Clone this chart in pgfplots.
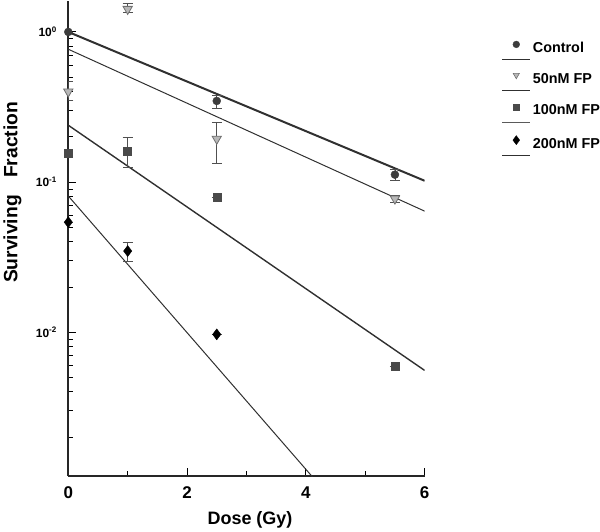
\documentclass[border=0pt]{standalone}
\usepackage{fontspec}
\setmainfont{Liberation Sans}
\usepackage{pgfplots}
\pgfplotsset{compat=1.18}

\definecolor{ctrl}{HTML}{3C3C3C}
\definecolor{trifill}{HTML}{B8B8B8}
\definecolor{triedge}{HTML}{707070}
\definecolor{sq}{HTML}{4A4A4A}
\definecolor{fitc}{HTML}{303030}
\definecolor{errc}{HTML}{505050}

\pgfplotsset{
  legmark/.style={legend image code/.code={\draw[##1] plot[only marks] coordinates {(0pt,4.5pt)};}},
  legline/.style={legend image code/.code={\draw[##1] (-14pt,4.5pt) -- (14pt,4.5pt);}},
  ebar/.style={error bars/.cd, y dir=both, y explicit,
    error bar style={errc, line width=0.8pt},
    error mark options={rotate=90, mark size=5pt, errc, line width=0.8pt}},
}

\begin{document}
\begin{tikzpicture}
\begin{axis}[
  scale only axis,
  width=357pt, height=476pt,
  ymode=log,
  xmin=0, xmax=6,
  ymin=0.0011, ymax=1.61,
  axis x line*=bottom,
  axis y line*=left,
  x axis line style={line width=1.4pt, black!85},
  y axis line style={line width=1.8pt, black!85},
  tick align=inside,
  xtick pos=bottom, ytick pos=left,
  major tick length=8pt, minor tick length=5pt,
  every tick/.style={draw=black, line width=1pt},
  major tick style={draw=black, line width=1pt},
  minor tick style={draw=black, line width=0.8pt},
  xtick={0,2,4,6},
  minor xtick={1,3,5},
  ytick={0.01,0.1,1},
  yticklabels={10\textsuperscript{-2},10\textsuperscript{-1},10\textsuperscript{0}},
  minor ytick={0.002,0.003,0.004,0.005,0.006,0.007,0.008,0.009,
               0.02,0.03,0.04,0.05,0.06,0.07,0.08,0.09,
               0.2,0.3,0.4,0.5,0.6,0.7,0.8,0.9},
  xticklabel style={font=\bfseries\fontsize{17}{19}\selectfont, yshift=-7pt},
  yticklabel style={font=\bfseries\fontsize{12}{14}\selectfont, xshift=-8pt},
  /pgf/number format/assume math mode=true,
  xlabel={Dose (Gy)},
  ylabel={Surviving\hspace{0.9em}Fraction},
  xlabel style={font=\bfseries\fontsize{18}{20}\selectfont, at={(axis description cs:0.51,0)}, anchor=base, yshift=-49pt},
  ylabel style={font=\bfseries\fontsize{19.3}{21}\selectfont, at={(axis description cs:-0.157,0.597)}, anchor=center, rotate=0},
  legend style={at={(rel axis cs:1,1)}, anchor=north west, xshift=77pt, yshift=-40pt,
    draw=none, fill=none, inner sep=0pt, row sep=2.4pt, column sep=2pt,
    nodes={font=\bfseries\fontsize{14.4}{16}\selectfont, inner sep=0pt, text height=10pt, text depth=3pt}},
  legend cell align=left,
  clip=true,
]
% fitted lines
\addplot[forget plot, fitc, line width=2pt] coordinates {(0,1.0) (6,0.102)};
\addplot[forget plot, fitc, line width=1pt] coordinates {(0,0.767) (6,0.064)};
\addplot[forget plot, fitc, line width=1.4pt] coordinates {(0,0.239) (6,0.00556)};
\addplot[forget plot, fitc, line width=1pt] coordinates {(0,0.0807) (6,0.00015)};

% Control
\addplot[forget plot, only marks, mark=*, mark size=4pt, color=ctrl, ebar] coordinates {
  (0,1.0) +- (0,0)
  (2.5,0.347) += (0,0.033) -= (0,0.036)
  (5.5,0.112) += (0,0.010) -= (0,0.010)
};
% 50nM FP
\addplot[forget plot, only marks, mark=triangle*, mark size=5.4pt,
  mark options={rotate=180, fill=trifill, draw=triedge, line width=0.8pt}, color=triedge, ebar] coordinates {
  (0,0.40) += (0,0.07) -= (0,0.05)
  (1,1.42) += (0,0.12) -= (0,0.08)
  (2.5,0.194) += (0,0.057) -= (0,0.060)
  (5.5,0.0774) += (0,0.004) -= (0,0.004)
};
% 100nM FP
\addplot[forget plot, only marks, mark=square*, mark size=4pt, color=sq, ebar] coordinates {
  (0,0.155) +- (0,0)
  (1,0.161) += (0,0.037) -= (0,0.036)
  (2.5,0.0794) +- (0,0)
  (5.5,0.0059) +- (0,0)
};
% 200nM FP
\addplot[forget plot, only marks, mark=diamond*, mark size=5.5pt, color=black, ebar] coordinates {
  (0,0.054) +- (0,0)
  (1,0.0347) += (0,0.005) -= (0,0.005)
  (2.5,0.00966) +- (0,0)
};

% legend
\addlegendimage{legmark, mark=*, mark size=3.4pt, ctrl}
\addlegendentry{Control}
\addlegendimage{legline, fitc, line width=1.3pt}
\addlegendentry{}
\addlegendimage{legmark, mark=triangle*, mark size=3.6pt, mark options={rotate=180, fill=trifill, draw=triedge, line width=0.6pt}}
\addlegendentry{50nM FP}
\addlegendimage{legline, fitc, line width=1.3pt}
\addlegendentry{}
\addlegendimage{legmark, mark=square*, mark size=3pt, sq}
\addlegendentry{100nM FP}
\addlegendimage{legline, fitc!80, line width=0.7pt}
\addlegendentry{}
\addlegendimage{legmark, mark=diamond*, mark size=4.5pt, black}
\addlegendentry{200nM FP}
\addlegendimage{legline, fitc, line width=1.3pt}
\addlegendentry{}
\end{axis}
\end{tikzpicture}
\end{document}
